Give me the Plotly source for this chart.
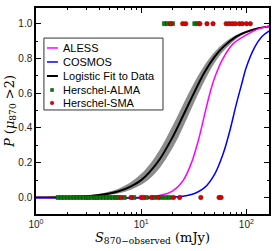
import plotly.graph_objects as go

# ---------------- data ----------------
S_fit = [1, 2, 3, 4, 5, 6, 8, 10, 12, 15, 20, 25, 30, 40, 50, 60, 80, 100, 130, 165]
P_fit = [0.0006, 0.003, 0.007, 0.014, 0.023, 0.034, 0.064, 0.10, 0.146, 0.22, 0.35, 0.47,
         0.57, 0.72, 0.81, 0.865, 0.925, 0.953, 0.974, 0.984]
P_fit_hi = [0.001, 0.005, 0.011, 0.021, 0.034, 0.049, 0.089, 0.136, 0.19, 0.275, 0.415, 0.535,
            0.63, 0.76, 0.838, 0.885, 0.935, 0.959, 0.976, 0.986]
P_fit_lo = [0.0, 0.002, 0.005, 0.009, 0.015, 0.023, 0.045, 0.073, 0.108, 0.17, 0.287, 0.404,
            0.51, 0.67, 0.775, 0.84, 0.912, 0.946, 0.97, 0.983]

S_aless = [1, 10, 15, 20, 25, 30, 35, 40, 45, 50, 60, 75, 100, 130, 165]
P_aless = [0.0, 0.002, 0.011, 0.038, 0.097, 0.198, 0.33, 0.475, 0.6, 0.69, 0.80, 0.885, 0.935, 0.97, 0.985]

S_cosmos = [1, 20, 30, 40, 50, 60, 70, 80, 90, 100, 120, 140, 165]
P_cosmos = [0.0, 0.002, 0.017, 0.057, 0.135, 0.25, 0.39, 0.534, 0.65, 0.75, 0.865, 0.925, 0.958]

S_alma = [1.62, 1.74, 1.86, 2.0, 2.14, 2.29, 2.45, 2.63, 2.82, 3.02, 3.16, 3.39, 3.63, 3.8,
          4.07, 4.37, 4.68, 5.01, 5.37, 5.75, 6.03, 6.9, 8.5, 11.2, 13.3, 15.5, 17.0, 18.6,
          16.6, 17.8, 19.9, 32.3, 34.5]
P_alma = [0] * 28 + [1] * 5

S_sma = [6.4, 8.0, 10.0, 10.5, 12.5, 14.5, 20.3, 23.2, 36.9, 55.0, 57.5,
         19.0, 24.8, 26.5, 36.1, 42.2, 48.2, 64.2, 68.6, 73.3, 78.4, 85.6, 91.3, 100.0, 109.0]
P_sma = [0] * 11 + [1] * 14

x_tickvals = [1, 10, 100]
x_ticktext = ["10<sup>0</sup>", "10<sup>1</sup>", "10<sup>2</sup>"]
x_minor = [2, 3, 4, 5, 6, 7, 8, 9, 20, 30, 40, 50, 60, 70, 80, 90]
y_tickvals = [0.0, 0.2, 0.4, 0.6, 0.8, 1.0]

legend_names = ["ALESS", "COSMOS", "Logistic Fit to Data", "Herschel-ALMA", "Herschel-SMA"]

C_ALESS = "#ff00ff"
C_COSMOS = "#0000ff"
C_FIT = "#000000"
C_BAND = "rgba(120,120,120,0.85)"
C_ALMA = "#0a7a0a"
C_SMA = "#e00000"

fig = go.Figure()

fig.add_trace(go.Scatter(x=S_fit, y=P_fit_hi, mode="lines", line=dict(width=0, shape="spline"),
                         showlegend=False, hoverinfo="skip"))
fig.add_trace(go.Scatter(x=S_fit, y=P_fit_lo, mode="lines", line=dict(width=0, shape="spline"),
                         fill="tonexty", fillcolor=C_BAND, showlegend=False, hoverinfo="skip"))
fig.add_trace(go.Scatter(x=S_fit, y=P_fit, mode="lines", line=dict(color=C_FIT, width=2, shape="spline"),
                         name=legend_names[2], showlegend=False))
fig.add_trace(go.Scatter(x=S_aless, y=P_aless, mode="lines", line=dict(color=C_ALESS, width=1.5, shape="spline"),
                         name=legend_names[0], showlegend=False))
fig.add_trace(go.Scatter(x=S_cosmos, y=P_cosmos, mode="lines", line=dict(color=C_COSMOS, width=1.5, shape="spline"),
                         name=legend_names[1], showlegend=False))
fig.add_trace(go.Scatter(x=S_alma, y=P_alma, mode="markers",
                         marker=dict(symbol="square", size=4, color=C_ALMA, line=dict(width=0.5, color="#034003")),
                         name=legend_names[3], showlegend=False))
fig.add_trace(go.Scatter(x=S_sma, y=P_sma, mode="markers",
                         marker=dict(symbol="circle", size=4.5, color=C_SMA, line=dict(width=0.5, color="#700000")),
                         name=legend_names[4], showlegend=False))

# ---- custom legend (paper coordinates) ----
shapes = []
annotations = []
lx0, lx1, ly0, ly1 = 0.034, 0.545, 0.505, 0.854
shapes.append(dict(type="rect", xref="paper", yref="paper", x0=lx0, x1=lx1, y0=ly0, y1=ly1,
                   line=dict(color="#333333", width=1), fillcolor="white", layer="above"))
row_y = [0.806, 0.738, 0.670, 0.602, 0.539]
line_colors = [C_ALESS, C_COSMOS, C_FIT]
for i in range(3):
    shapes.append(dict(type="line", xref="paper", yref="paper", x0=0.047, x1=0.094, y0=row_y[i], y1=row_y[i],
                       line=dict(color=line_colors[i], width=1.5 if i < 2 else 2), layer="above"))
mx, my3, my4 = 0.069, row_y[3], row_y[4]
dx, dy = 1.5 / 233, 1.5 / 206
shapes.append(dict(type="rect", xref="paper", yref="paper", x0=mx - dx, x1=mx + dx, y0=my3 - dy, y1=my3 + dy,
                   line=dict(color="#034003", width=0.5), fillcolor=C_ALMA, layer="above"))
dx2, dy2 = 1.8 / 233, 1.8 / 206
shapes.append(dict(type="circle", xref="paper", yref="paper", x0=mx - dx2, x1=mx + dx2, y0=my4 - dy2, y1=my4 + dy2,
                   line=dict(color="#700000", width=0.5), fillcolor=C_SMA, layer="above"))
for i, name in enumerate(legend_names):
    annotations.append(dict(xref="paper", yref="paper", x=0.107, y=row_y[i], text=name, showarrow=False,
                            xanchor="left", yanchor="middle",
                            font=dict(family="Liberation Sans, Arial", size=11, color="black")))

fig.update_layout(
    width=278, height=251,
    margin=dict(l=36, r=9, t=8, b=37),
    paper_bgcolor="white", plot_bgcolor="white",
    showlegend=False,
    shapes=shapes, annotations=annotations,
    font=dict(family="Liberation Sans, Arial", size=10, color="#222222"),
    xaxis=dict(type="log", range=[0, 2.215], tickvals=x_tickvals, ticktext=x_ticktext,
               automargin=False,
               ticks="inside", ticklen=5, tickwidth=1, tickcolor="black",
               minor=dict(ticks="inside", ticklen=2.5, tickwidth=0.8, tickcolor="black", tickvals=x_minor),
               showline=True, linecolor="black", linewidth=1.5, mirror="allticks",
               showgrid=False, zeroline=False,
               title=dict(text="<i>S</i><sub>870−observed</sub> (mJy)", standoff=0,
                          font=dict(family="DejaVu Serif, Liberation Serif, serif", size=13, color="black"))),
    yaxis=dict(range=[-0.095, 1.09], tickvals=y_tickvals, tickformat=".1f",
               automargin=False,
               ticks="inside", ticklen=5, tickwidth=1, tickcolor="black",
               minor=dict(ticks="inside", ticklen=2.5, tickwidth=0.8, tickcolor="black", dtick=0.1, tick0=0),
               showline=True, linecolor="black", linewidth=1.5, mirror="allticks",
               showgrid=False, zeroline=False,
               title=dict(text="<i>P</i> (<i>μ</i><sub>870</sub> >2)", standoff=0,
                          font=dict(family="DejaVu Serif, Liberation Serif, serif", size=13, color="black"))),
)

fig.write_html("out.html", config={"displayModeBar": False},
               post_script="document.body.style.margin='0';document.body.style.overflow='hidden';")
